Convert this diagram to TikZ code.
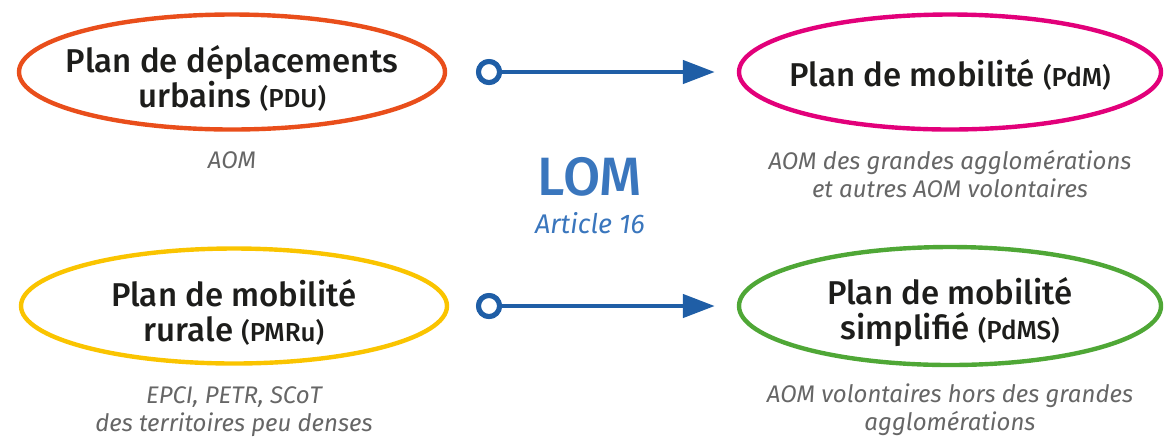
\documentclass[tikz,border=0pt]{standalone}
\usepackage{fontspec}
\setmainfont{Fira Sans}
\newfontfamily\medfont{Fira Sans Medium}
\usetikzlibrary{shapes.geometric,arrows.meta,positioning}
\definecolor{pduc}{HTML}{E94E1B}
\definecolor{pdmc}{HTML}{E2007A}
\definecolor{pmrc}{HTML}{FAC400}
\definecolor{pdmsc}{HTML}{4FA736}
\definecolor{lomc}{HTML}{1F5EA6}
\definecolor{lomtext}{HTML}{3A76BD}
\definecolor{ink}{HTML}{1D1D1B}
\definecolor{grey}{HTML}{666666}
\newcommand{\sigle}[1]{{\fontsize{13}{17.5}\selectfont #1}}

\begin{document}
\begin{tikzpicture}[x=0.5pt,y=-0.5pt]
\tikzstyle{plan}=[ellipse, line width=2.2pt, inner sep=0pt,
	minimum width=213pt, minimum height=57.5pt,
]
\tikzstyle{title}=[align=center, text=ink, yshift=-3pt, font=\medfont\fontsize{16.5}{17.5}\selectfont]
\tikzstyle{who}=[align=center, text=grey, font=\itshape\fontsize{12}{14}\selectfont]
\tikzstyle{ring}=[circle, draw=lomc, fill=white, line width=2.5pt, minimum size=10.5pt, inner sep=0pt]
\tikzstyle{link}=[draw=lomc, color=lomc, line width=2.3pt, shorten >=11pt, -{Triangle[length=16pt,width=11.5pt]}]
\useasboundingbox (0,0) rectangle (1166,436);
% the four plans
\node[plan,draw=pduc] (pdu) at (232,72) {};
\node[plan,draw=pdmc,minimum width=211pt] (pdm) at (950,72) {};
\node[plan,draw=pmrc] (pmr) at (234,306) {};
\node[plan,draw=pdmsc,minimum width=211pt,minimum height=59pt] (pdms) at (950,306) {};
\node[title] (pdutxt) at (pdu) {Plan de déplacements\\urbains \sigle{(PDU)}};
\node[title,yshift=1.5pt] (pdmtxt) at (pdm) {Plan de mobilité \sigle{(PdM)}};
\node[title] (pmrtxt) at (pmr) {Plan de mobilité\\rurale \sigle{(PMRu)}};
\node[title] (pdmstxt) at (pdms) {Plan de mobilité\\simplifié \sigle{(PdMS)}};
% who draws them up
\node[who,below of = pdu,node distance=44pt] (pduwho) {AOM};
\node[who,below of = pdm,node distance=51pt] (pdmwho) {AOM des grandes agglomérations\\et autres AOM volontaires};
\node[who,below of = pmr,node distance=53pt] (pmrwho) {EPCI, PETR, SCoT\\des territoires peu denses};
\node[who,below of = pdms,node distance=52pt] (pdmswho) {AOM volontaires hors des grandes\\agglomérations};
% the law
\node[text=lomtext,font=\medfont\fontsize{27}{30}\selectfont] (lom) at (590,177) {LOM};
\node[below of = lom,node distance=23pt,text=lomtext,font=\itshape\fontsize{13.5}{14}\selectfont] (art) {Article 16};
% from old plan to new plan
\node[ring] (r1) at (489,72) {};
\node[ring] (r2) at (489,306) {};
\path[link] (r1) edge (pdm) ;
\path[link] (r2) edge (pdms) ;
\node[ring] at (r1) {};
\node[ring] at (r2) {};

\end{tikzpicture}
\end{document}
